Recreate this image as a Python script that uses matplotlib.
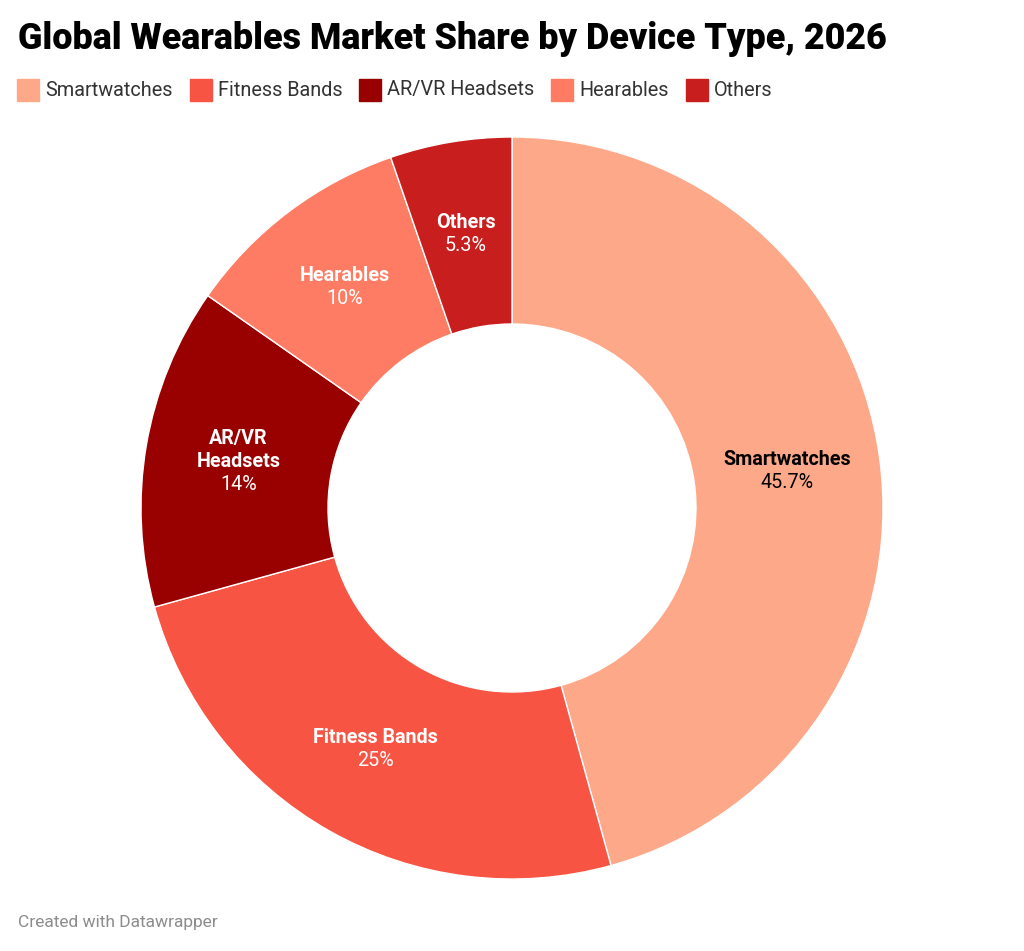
import numpy as np
import matplotlib
matplotlib.use("Agg")
import matplotlib.pyplot as plt

categories = ["Smartwatches", "Fitness Bands", "AR/VR Headsets", "Hearables", "Others"]
label_lines = [["Smartwatches"], ["Fitness Bands"], ["AR/VR", "Headsets"], ["Hearables"], ["Others"]]
shares = [45.7, 25, 14, 10, 5.3]
share_labels = ["45.7%", "25%", "14%", "10%", "5.3%"]
colors = ["#fea88a", "#f75443", "#990000", "#fe7c64", "#c81e1e"]
text_colors = ["black", "white", "white", "white", "white"]

plt.rcParams['font.family'] = ['Roboto', 'DejaVu Sans']

W, H = 1024, 951
fig = plt.figure(figsize=(W / 100, H / 100), dpi=100)

# donut geometry in pixels
cx, cy, r_out = 512, 508, 371
ax = fig.add_axes([(cx - r_out) / W, (H - cy - r_out) / H, 2 * r_out / W, 2 * r_out / H])

inner = 184 / r_out
wedges, _ = ax.pie(shares, colors=colors, startangle=90, counterclock=False,
                   radius=1, wedgeprops=dict(width=1 - inner, edgecolor='white', linewidth=1))
ax.set_xlim(-1, 1)
ax.set_ylim(-1, 1)
ax.set_aspect('equal')
ax.axis('off')

line_h = 23 / r_out
mid_r = (1 + inner) / 2
for w, lines, lab, tc in zip(wedges, label_lines, share_labels, text_colors):
    ang = np.deg2rad((w.theta1 + w.theta2) / 2)
    x, y = mid_r * np.cos(ang), mid_r * np.sin(ang)
    n = len(lines) + 1
    y0 = y + (n - 1) / 2 * line_h
    for i, s in enumerate(lines):
        ax.text(x, y0 - i * line_h, s, ha='center', va='center', color=tc,
                fontsize=14.2, fontweight='bold')
    ax.text(x, y0 - len(lines) * line_h, lab, ha='center', va='center', color=tc,
            fontsize=14.2)

fig.text(18 / W, 1 - 39 / H, "Global Wearables Market Share by Device Type, 2026",
         fontsize=25.8, fontweight='black', va='center', ha='left', color='black')

# legend row
lx = 17
ly = 90
for cat, col in zip(categories, colors):
    fig.patches.append(plt.Rectangle((lx / W, 1 - (ly + 11) / H), 22 / W, 22 / H,
                                     transform=fig.transFigure, color=col))
    t = fig.text((lx + 28) / W, 1 - ly / H, cat, fontsize=14.3, va='center', ha='left',
                 color='#333333')
    fig.canvas.draw()
    bb = t.get_window_extent()
    lx = bb.x1 + 17

fig.text(18 / W, 1 - 923 / H, "Created with Datawrapper", fontsize=12.5, color='#8c8c8c',
         va='center', ha='left')

fig.savefig("out.png", dpi=100)
